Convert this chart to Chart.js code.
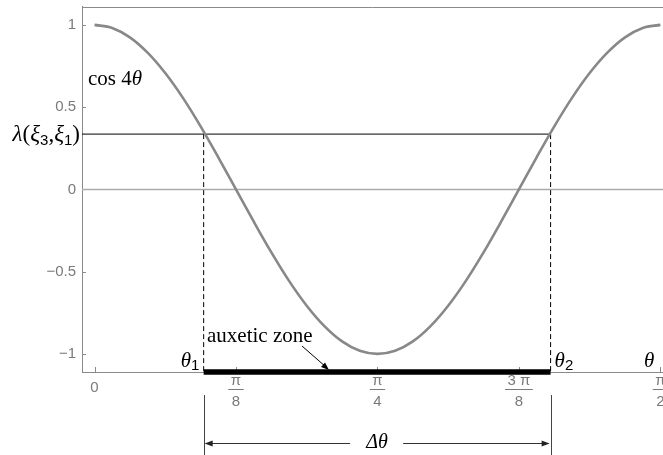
<!DOCTYPE html>
<html>
<head>
<meta charset="utf-8">
<script src="https://cdn.jsdelivr.net/npm/chart.js@4"></script>
<style>
  html, body { margin: 0; padding: 0; background: #fff; overflow: hidden; }
</style>
</head>
<body>
<canvas id="auxChart" width="663" height="455"></canvas>
<script>
// curve samples (theta in rad, value of cos 4theta)
const thetaValues = [0, 0.0491, 0.0982, 0.1473, 0.1963, 0.2454, 0.2945, 0.3436, 0.3927, 0.4418, 0.4909,
    0.5400, 0.5890, 0.6381, 0.6872, 0.7363, 0.7854, 0.8345, 0.8836, 0.9327, 0.9817, 1.0308, 1.0799,
    1.1290, 1.1781, 1.2272, 1.2763, 1.3254, 1.3744, 1.4235, 1.4726, 1.5217, 1.5708];
const cosValues = [1, 0.981, 0.924, 0.831, 0.707, 0.556, 0.383, 0.195, 0, -0.195, -0.383,
    -0.556, -0.707, -0.831, -0.924, -0.981, -1, -0.981, -0.924, -0.831, -0.707, -0.556, -0.383,
    -0.195, 0, 0.195, 0.383, 0.556, 0.707, 0.831, 0.924, 0.981, 1];

const lambdaValue = 0.336;
const theta1 = 0.303;
const theta2 = 1.266;

const xRange = [-0.0347, 1.578];
const yRange = [-1.11, 1.11];

const xTickValues = [0, 0.3927, 0.7854, 1.1781, 1.5708];
const xTickNums = ['0', 'π', 'π', '3 π', 'π'];
const xTickDens = ['', '8', '4', '8', '2'];
const yTickValues = [-1, -0.5, 0, 0.5, 1];
const yTickLabels = ['\u22121', '\u22120.5', '0', '0.5', '1'];

const SERIF = '"Liberation Serif", "DejaVu Serif", serif';
const SANS = '"Liberation Sans", Arial, sans-serif';
const AXIS_GRAY = '#8a8a8a';
const LABEL_GRAY = '#7a7a7a';

function arrowHead(ctx, x, y, ang, len, wid) {
    ctx.save();
    ctx.translate(x, y);
    ctx.rotate(ang);
    ctx.beginPath();
    ctx.moveTo(0, 0);
    ctx.lineTo(-len, -wid);
    ctx.lineTo(-len, wid);
    ctx.closePath();
    ctx.fill();
    ctx.restore();
}

// draws a run of [text, font, dy] pieces starting at x
function drawPieces(ctx, pieces, x, y) {
    pieces.forEach(p => {
        ctx.font = p[1];
        ctx.fillText(p[0], x, y + (p[2] || 0));
        x += ctx.measureText(p[0]).width;
    });
}
function piecesWidth(ctx, pieces) {
    let w = 0;
    pieces.forEach(p => { ctx.font = p[1]; w += ctx.measureText(p[0]).width; });
    return w;
}

const annotate = {
    id: 'annotate',
    beforeDatasetsDraw(chart) {
        const ctx = chart.ctx;
        const xs = chart.scales.x, ys = chart.scales.y;
        const area = chart.chartArea;
        ctx.save();
        ctx.strokeStyle = AXIS_GRAY;
        ctx.lineWidth = 1;
        // top frame line
        ctx.beginPath();
        ctx.moveTo(area.left, Math.round(area.top) + 0.5);
        ctx.lineTo(area.right, Math.round(area.top) + 0.5);
        ctx.stroke();
        // inward tick marks
        yTickValues.forEach(v => {
            const py = Math.round(ys.getPixelForValue(v)) + 0.5;
            ctx.beginPath();
            ctx.moveTo(area.left, py);
            ctx.lineTo(area.left + 4, py);
            ctx.stroke();
        });
        xTickValues.forEach(v => {
            const px = Math.round(xs.getPixelForValue(v)) + 0.5;
            ctx.beginPath();
            ctx.moveTo(px, area.bottom);
            ctx.lineTo(px, area.bottom - 5);
            ctx.stroke();
        });
        ctx.restore();
    },
    afterDraw(chart) {
        const ctx = chart.ctx;
        const xs = chart.scales.x, ys = chart.scales.y;
        const area = chart.chartArea;
        ctx.save();

        // x tick labels as fractions
        ctx.fillStyle = LABEL_GRAY;
        ctx.strokeStyle = LABEL_GRAY;
        ctx.textAlign = 'center';
        ctx.textBaseline = 'middle';
        ctx.font = '15px ' + SANS;
        xTickValues.forEach((v, i) => {
            const px = xs.getPixelForValue(v);
            if (!xTickDens[i]) {
                ctx.fillText(xTickNums[i], px, area.bottom + 16);
                return;
            }
            ctx.fillText(xTickNums[i], px, area.bottom + 9);
            const w = ctx.measureText(xTickNums[i]).width + 5;
            ctx.lineWidth = 1;
            ctx.beginPath();
            ctx.moveTo(px - w / 2, area.bottom + 17.5);
            ctx.lineTo(px + w / 2, area.bottom + 17.5);
            ctx.stroke();
            ctx.fillText(xTickDens[i], px, area.bottom + 30);
        });

        ctx.fillStyle = '#000';
        ctx.strokeStyle = '#000';
        ctx.textAlign = 'left';
        ctx.textBaseline = 'alphabetic';
        const it = 'italic 23px ' + SERIF;
        const up = '23px ' + SERIF;
        const sub = '15px ' + SANS;

        // cos 4θ
        drawPieces(ctx, [['cos 4', '21px ' + SERIF], ['θ', 'italic 21px ' + SERIF]], 88, 85);

        // λ(ξ3,ξ1)
        const lam = [['λ', it], ['(', up], ['ξ', it], ['3', sub, 4], [',', up], ['ξ', it], ['1', sub, 4], [')', up]];
        drawPieces(ctx, lam, 80 - piecesWidth(ctx, lam), ys.getPixelForValue(lambdaValue) + 7);

        const t1 = xs.getPixelForValue(theta1);
        const t2 = xs.getPixelForValue(theta2);
        const baseY = area.bottom - 5;
        const th = 'italic 21px ' + SERIF;
        drawPieces(ctx, [['θ', th], ['1', sub, 3]], t1 - 23, baseY);
        drawPieces(ctx, [['θ', th], ['2', sub, 3]], t2 + 4, baseY);
        drawPieces(ctx, [['θ', th]], 644, baseY);

        // auxetic zone label and pointer
        ctx.font = '21px ' + SERIF;
        ctx.fillText('auxetic zone', 207, 342);
        ctx.lineWidth = 1;
        ctx.beginPath();
        ctx.moveTo(302, 346);
        ctx.lineTo(326, 367);
        ctx.stroke();
        arrowHead(ctx, 329, 370, Math.atan2(24, 27), 8, 3);

        // Δθ dimension
        ctx.strokeStyle = '#444';
        ctx.beginPath();
        ctx.moveTo(Math.round(t1) + 0.5, area.bottom + 23);
        ctx.lineTo(Math.round(t1) + 0.5, 455);
        ctx.moveTo(Math.round(t2) + 0.5, area.bottom + 23);
        ctx.lineTo(Math.round(t2) + 0.5, 455);
        ctx.stroke();
        const mid = (t1 + t2) / 2;
        const ay = area.bottom + 71.5;
        ctx.strokeStyle = '#333';
        ctx.fillStyle = '#222';
        ctx.beginPath();
        ctx.moveTo(t1 + 2, ay);
        ctx.lineTo(mid - 27, ay);
        ctx.moveTo(mid + 26, ay);
        ctx.lineTo(t2 - 2, ay);
        ctx.stroke();
        arrowHead(ctx, t1 + 1, ay, Math.PI, 8, 3);
        arrowHead(ctx, t2 - 1, ay, 0, 8, 3);
        ctx.fillStyle = '#000';
        ctx.textAlign = 'center';
        ctx.font = 'italic 20px ' + SERIF;
        ctx.fillText('Δθ', mid, ay + 4);
        ctx.restore();
    }
};

const ctx = document.getElementById('auxChart').getContext('2d');

new Chart(ctx, {
    type: 'line',
    data: {
        datasets: [
            {
                data: thetaValues.map((t, i) => ({ x: t, y: cosValues[i] })),
                borderColor: '#888888',
                borderWidth: 2.6,
                pointRadius: 0,
                cubicInterpolationMode: 'monotone',
                order: 1
            },
            {
                data: [{ x: xRange[0], y: lambdaValue }, { x: theta2, y: lambdaValue }],
                borderColor: '#000',
                borderWidth: 1,
                pointRadius: 0,
                order: 2
            },
            {
                data: [{ x: theta1, y: lambdaValue }, { x: theta1, y: yRange[0] }],
                borderColor: '#000',
                borderWidth: 1,
                borderDash: [5, 3],
                pointRadius: 0,
                order: 3
            },
            {
                data: [{ x: theta2, y: lambdaValue }, { x: theta2, y: yRange[0] }],
                borderColor: '#000',
                borderWidth: 1,
                borderDash: [5, 3],
                pointRadius: 0,
                order: 3
            },
            {
                data: [{ x: xRange[0], y: 0 }, { x: xRange[1], y: 0 }],
                borderColor: '#aaaaaa',
                borderWidth: 1.5,
                pointRadius: 0,
                order: 4
            },
            {
                data: [{ x: theta1, y: yRange[0] }, { x: theta2, y: yRange[0] }],
                borderColor: '#000',
                borderWidth: 5.5,
                borderCapStyle: 'butt',
                pointRadius: 0,
                clip: false,
                order: 0
            }
        ]
    },
    options: {
        responsive: false,
        animation: false,
        layout: { padding: 0 },
        plugins: {
            legend: { display: false },
            tooltip: { enabled: false }
        },
        scales: {
            x: {
                type: 'linear',
                min: xRange[0],
                max: xRange[1],
                grid: { display: false, drawTicks: false },
                border: { display: true, color: AXIS_GRAY, width: 1 },
                ticks: { display: false },
                afterFit: s => { s.height = 83; }
            },
            y: {
                min: yRange[0],
                max: yRange[1],
                grid: { display: false, drawTicks: false },
                border: { display: true, color: AXIS_GRAY, width: 1 },
                afterBuildTicks: s => { s.ticks = yTickValues.map(v => ({ value: v })); },
                afterFit: s => { s.width = 82; },
                ticks: {
                    padding: 6,
                    color: LABEL_GRAY,
                    font: { family: SANS, size: 15, lineHeight: 0.1 },
                    callback: v => yTickLabels[yTickValues.indexOf(v)]
                }
            }
        }
    },
    plugins: [annotate]
});
</script>
</body>
</html>
